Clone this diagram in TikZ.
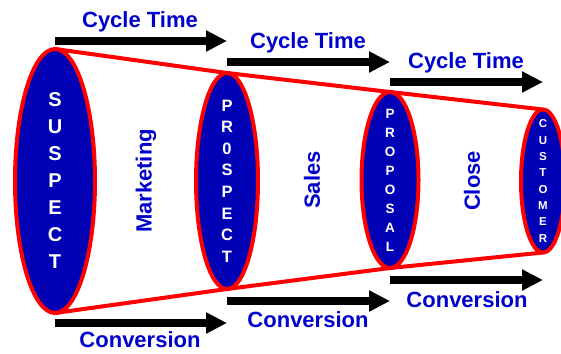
\documentclass[tikz,border=0pt]{standalone}
\usepackage{fontspec}
\setmainfont{Liberation Sans}
\usetikzlibrary{shapes.geometric,arrows.meta}
\definecolor{fillblue}{RGB}{0,0,180}
\definecolor{txtblue}{RGB}{0,0,205}
\definecolor{rimred}{RGB}{255,0,0}
\begin{document}
\begin{tikzpicture}[x=1pt,y=-1pt,
  cone/.style={ellipse, draw=rimred, line width=4pt, fill=fillblue, inner sep=0pt, outer sep=0pt},
  letters/.style={text=white, font=\bfseries, align=center, inner sep=0pt},
  lbl/.style={text=txtblue, inner sep=0pt, font=\bfseries\fontsize{22}{24}\selectfont},
  bigarrow/.style={line width=8.5pt, -{Triangle[length=21pt,width=20pt]}},
  rim/.style={draw=rimred, line width=4pt, line join=round}]
\useasboundingbox (0,0) rectangle (561,353);

% ellipses
\node[cone, minimum width=80pt, minimum height=264pt] (e1) at (55,181) {};
\node[cone, minimum width=62pt, minimum height=216pt] (e2) at (227,181) {};
\node[cone, minimum width=57pt, minimum height=176pt] (e3) at (390,180) {};
\node[cone, minimum width=44pt, minimum height=143pt] (e4) at (543,181) {};

% cone outline
\draw[rim] (e1.north) -- (e2.north) -- (e3.north) -- (e4.north);
\draw[rim] (e1.south) -- (e2.south) -- (e3.south) -- (e4.south);

% letters
\node[letters, font=\bfseries\fontsize{20}{27}\selectfont] (t1) at (e1.center) {S\\U\\S\\P\\E\\C\\T};
\node[letters, font=\bfseries\fontsize{16.5}{21.6}\selectfont] (t2) at (e2.center) {P\\R\\0\\S\\P\\E\\C\\T};
\node[letters, font=\bfseries\fontsize{13.5}{19}\selectfont] (t3) at (e3.center) {P\\R\\O\\P\\O\\S\\A\\L};
\node[letters, font=\bfseries\fontsize{11.5}{16.3}\selectfont] (t4) at (e4.center) {C\\U\\S\\T\\O\\M\\E\\R};

% stage labels
\node[lbl, rotate=90] (mk) at (146,181) {Marketing};
\node[lbl, rotate=90] (sl) at (312,180) {Sales};
\node[lbl, rotate=90] (cl) at (472,181) {Close};

% top arrows
\coordinate (a1s) at (e1.center |- 0,41);
\coordinate (a1e) at (e2.center |- 0,41);
\coordinate (a2s) at (e2.center |- 0,62);
\coordinate (a2e) at (e3.center |- 0,62);
\coordinate (a3s) at (e3.center |- 0,82);
\coordinate (a3e) at (e4.center |- 0,82);
\draw[bigarrow] (a1s) -- (a1e);
\draw[bigarrow] (a2s) -- (a2e);
\draw[bigarrow] (a3s) -- (a3e);
\node[lbl] (c1) at (140,22) {Cycle Time};
\node[lbl] (c2) at (308,43) {Cycle Time};
\node[lbl] (c3) at (466,63) {Cycle Time};

% bottom arrows
\coordinate (b1s) at (e1.center |- 0,323);
\coordinate (b1e) at (e2.center |- 0,323);
\coordinate (b2s) at (e2.center |- 0,301);
\coordinate (b2e) at (e3.center |- 0,301);
\coordinate (b3s) at (e3.center |- 0,280);
\coordinate (b3e) at (e4.center |- 0,280);
\draw[bigarrow] (b1s) -- (b1e);
\draw[bigarrow] (b2s) -- (b2e);
\draw[bigarrow] (b3s) -- (b3e);
\node[lbl] (v1) at (140,340) {Conversion};
\node[lbl] (v2) at (308,320) {Conversion};
\node[lbl] (v3) at (467,300) {Conversion};
\end{tikzpicture}
\end{document}
